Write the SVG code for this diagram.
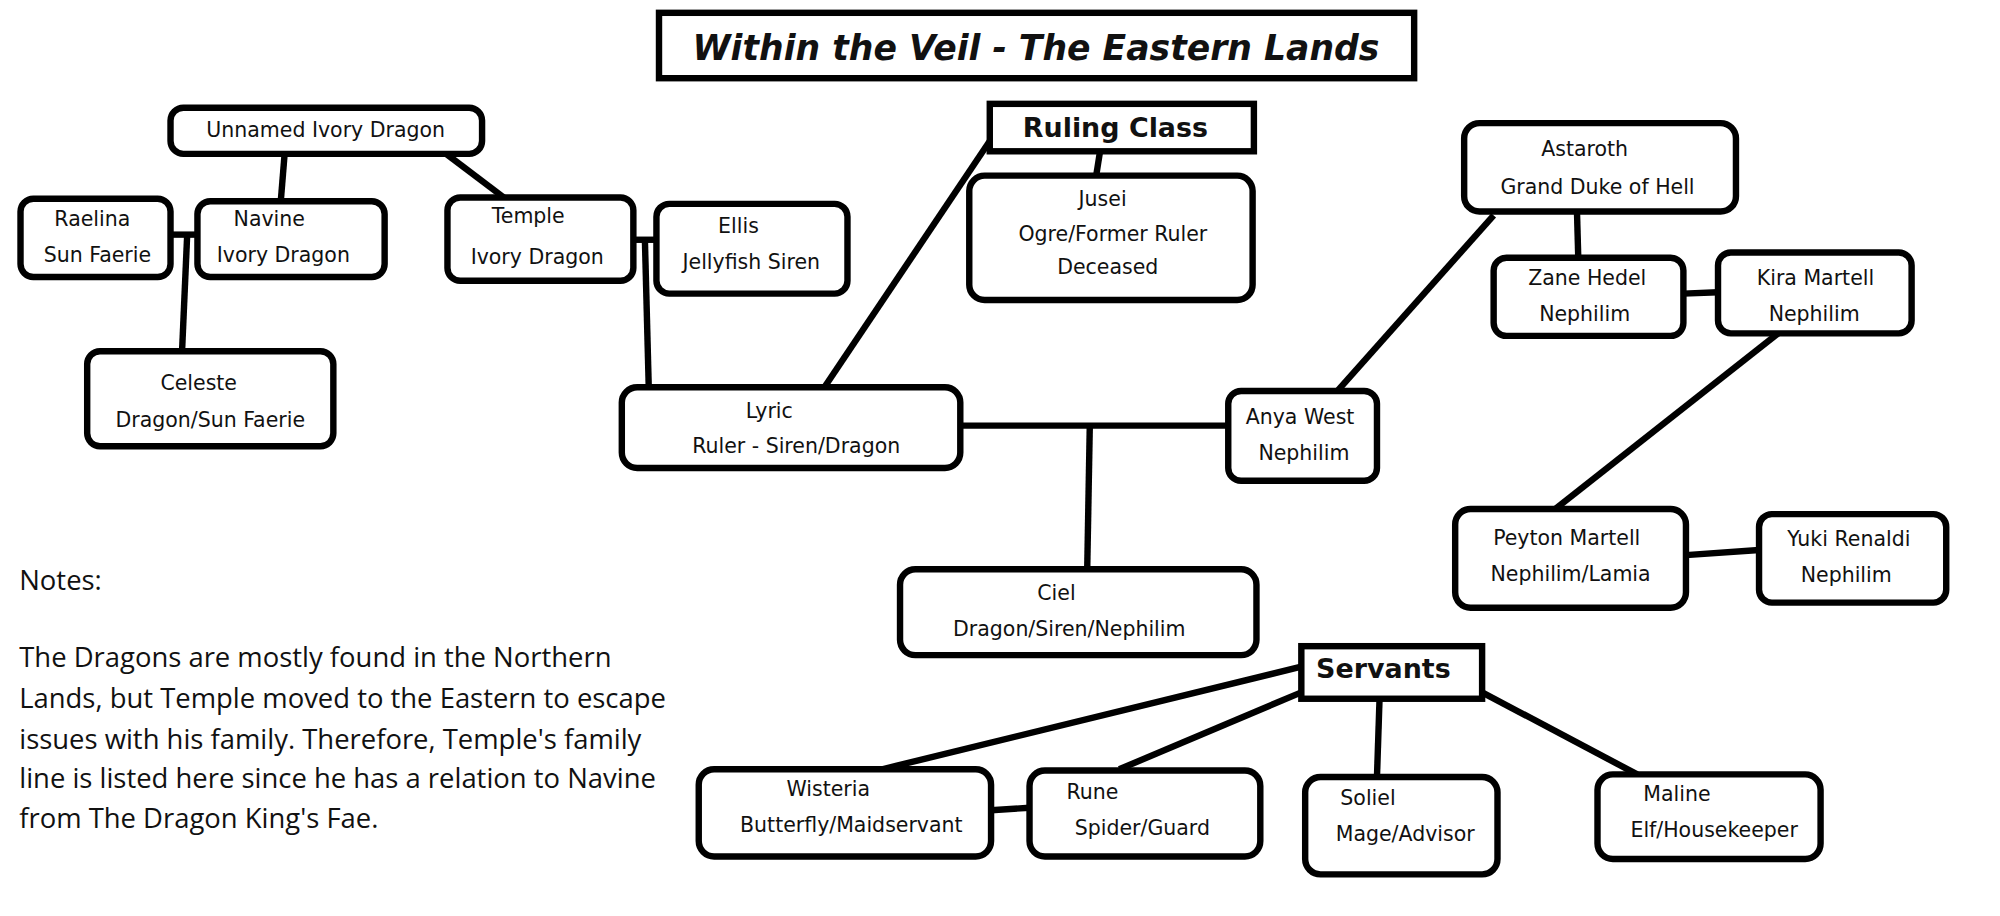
<svg xmlns="http://www.w3.org/2000/svg" width="2000" height="916" viewBox="0 0 2000 916">
<style>
.n{fill:#fff;stroke:#000;stroke-width:5}
.c line{stroke:#000;stroke-width:5}
text{font-family:"DejaVu Sans","Liberation Sans",sans-serif;font-size:16px;fill:#111;text-anchor:middle}
.h{font-weight:bold;font-size:21px}
.t{font-size:27px;font-weight:bold;font-style:italic}
.note{font-family:"Open Sans","Liberation Sans",sans-serif;font-size:21.4px;text-anchor:start}
</style>
<rect width="2000" height="916" fill="#fff"/>
<g transform="scale(1.2821)">
<g class="c" id="connectors">
<line x1="222" y1="120" x2="219" y2="157"/>
<line x1="348" y1="120" x2="393" y2="154"/>
<line x1="133" y1="183" x2="154" y2="183"/>
<line x1="146" y1="183" x2="142" y2="274"/>
<line x1="494" y1="187" x2="512" y2="187"/>
<line x1="503" y1="187" x2="506" y2="302"/>
<line x1="643" y1="302" x2="772" y2="110"/>
<line x1="858" y1="118" x2="855" y2="137"/>
<line x1="749" y1="332" x2="958" y2="332"/>
<line x1="850" y1="332" x2="848" y2="444"/>
<line x1="1043" y1="305" x2="1165" y2="168"/>
<line x1="1230" y1="165" x2="1231" y2="201"/>
<line x1="1313" y1="229" x2="1340" y2="228"/>
<line x1="1387" y1="260" x2="1213" y2="397"/>
<line x1="1315" y1="433" x2="1372" y2="429"/>
<line x1="1015" y1="520" x2="688" y2="600"/>
<line x1="1015" y1="540" x2="873" y2="600"/>
<line x1="1076" y1="545" x2="1074" y2="606"/>
<line x1="1156" y1="540" x2="1277" y2="604"/>
<line x1="773" y1="632" x2="803" y2="630"/>
</g>
<g id="title"><rect class="n" x="514" y="10" width="589" height="51"/><text class="t" x="808" y="47">Within the Veil - The Eastern Lands</text></g>
<g id="unnamed"><rect class="n" x="133" y="84" width="243" height="36" rx="10"/><text x="254" y="107">Unnamed Ivory Dragon</text></g>
<g id="raelina"><rect class="n" x="16" y="155" width="117" height="61" rx="10"/><text x="72" y="176">Raelina</text><text x="76" y="204">Sun Faerie</text></g>
<g id="navine"><rect class="n" x="154" y="157" width="146" height="59" rx="10"/><text x="210" y="176">Navine</text><text x="221" y="204">Ivory Dragon</text></g>
<g id="temple"><rect class="n" x="349" y="154" width="145" height="65" rx="10"/><text x="412" y="174">Temple</text><text x="419" y="206">Ivory Dragon</text></g>
<g id="ellis"><rect class="n" x="512" y="159" width="149" height="70" rx="10"/><text x="576" y="182">Ellis</text><text x="586" y="210">Jellyfish Siren</text></g>
<g id="celeste"><rect class="n" x="68" y="274" width="192" height="74" rx="10"/><text x="155" y="304">Celeste</text><text x="164" y="333">Dragon/Sun Faerie</text></g>
<g id="ruling"><rect class="n" x="772" y="81" width="206" height="37"/><text class="h" x="870" y="107">Ruling Class</text></g>
<g id="jusei"><rect class="n" x="756" y="137" width="221" height="97" rx="12"/><text x="860" y="161">Jusei</text><text x="868" y="188">Ogre/Former Ruler</text><text x="864" y="214">Deceased</text></g>
<g id="astaroth"><rect class="n" x="1142" y="96" width="212" height="69" rx="12"/><text x="1236" y="122">Astaroth</text><text x="1246" y="151">Grand Duke of Hell</text></g>
<g id="zane"><rect class="n" x="1165" y="201" width="148" height="61" rx="10"/><text x="1238" y="222">Zane Hedel</text><text x="1236" y="250">Nephilim</text></g>
<g id="kira"><rect class="n" x="1340" y="197" width="151" height="63" rx="10"/><text x="1416" y="222">Kira Martell</text><text x="1415" y="250">Nephilim</text></g>
<g id="lyric"><rect class="n" x="485" y="302" width="264" height="63" rx="12"/><text x="600" y="326">Lyric</text><text x="621" y="353">Ruler - Siren/Dragon</text></g>
<g id="anya"><rect class="n" x="958" y="305" width="116" height="70" rx="10"/><text x="1014" y="331">Anya West</text><text x="1017" y="359">Nephilim</text></g>
<g id="peyton"><rect class="n" x="1135" y="397" width="180" height="77" rx="12"/><text x="1222" y="425">Peyton Martell</text><text x="1225" y="453">Nephilim/Lamia</text></g>
<g id="yuki"><rect class="n" x="1372" y="401" width="146" height="69" rx="10"/><text x="1442" y="426">Yuki Renaldi</text><text x="1440" y="454">Nephilim</text></g>
<g id="ciel"><rect class="n" x="702" y="444" width="278" height="67" rx="12"/><text x="824" y="468">Ciel</text><text x="834" y="496">Dragon/Siren/Nephilim</text></g>
<g id="servants"><rect class="n" x="1015" y="504" width="141" height="41"/><text class="h" x="1079" y="529">Servants</text></g>
<g id="wisteria"><rect class="n" x="545" y="600" width="228" height="68" rx="12"/><text x="646" y="621">Wisteria</text><text x="664" y="649">Butterfly/Maidservant</text></g>
<g id="rune"><rect class="n" x="803" y="601" width="180" height="67" rx="12"/><text x="852" y="623">Rune</text><text x="891" y="651">Spider/Guard</text></g>
<g id="soliel"><rect class="n" x="1018" y="606" width="150" height="76" rx="12"/><text x="1067" y="628">Soliel</text><text x="1096" y="656">Mage/Advisor</text></g>
<g id="maline"><rect class="n" x="1246" y="604" width="174" height="66" rx="12"/><text x="1308" y="625">Maline</text><text x="1337" y="653">Elf/Housekeeper</text></g>
<g id="notes">
<text class="note" x="15" y="460">Notes:</text>
<text class="note" x="15" y="520">The Dragons are mostly found in the Northern</text>
<text class="note" x="15" y="552">Lands, but Temple moved to the Eastern to escape</text>
<text class="note" x="15" y="584">issues with his family. Therefore, Temple's family</text>
<text class="note" x="15" y="615">line is listed here since he has a relation to Navine</text>
<text class="note" x="15" y="646">from The Dragon King's Fae.</text>
</g>
</g>
</svg>
